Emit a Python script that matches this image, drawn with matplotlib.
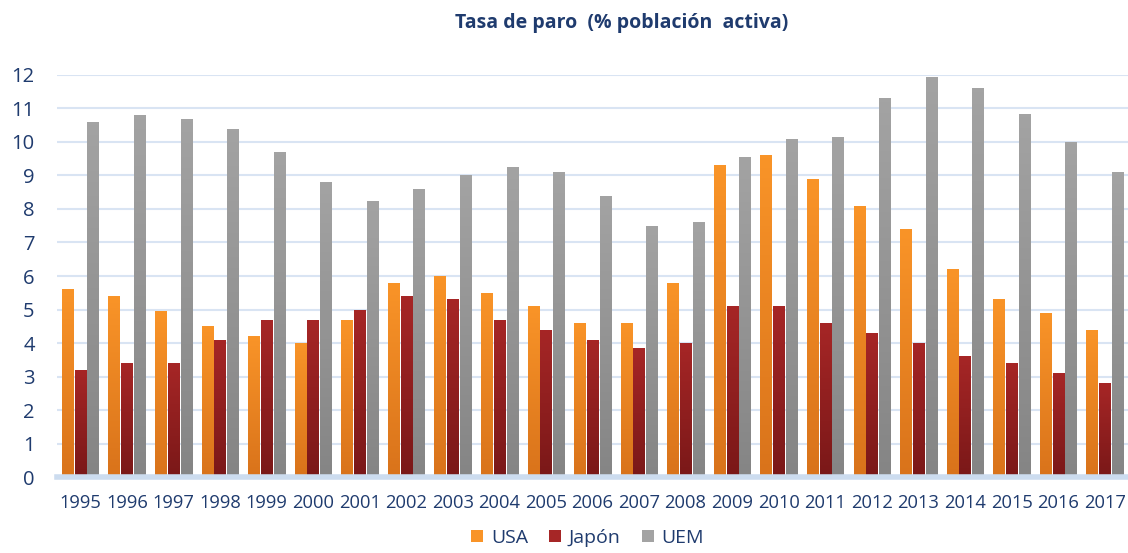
import numpy as np
import matplotlib
matplotlib.use("Agg")
import matplotlib.pyplot as plt
from matplotlib.colors import LinearSegmentedColormap
from matplotlib.patches import Patch

# datos: tasa de paro (% población activa)
years = [str(y) for y in range(1995, 2018)]
usa = [5.6, 5.4, 4.95, 4.5, 4.2, 4.0, 4.7, 5.8, 6.0, 5.5, 5.1, 4.6,
       4.6, 5.8, 9.3, 9.6, 8.9, 8.1, 7.4, 6.2, 5.3, 4.9, 4.4]
japon = [3.2, 3.4, 3.4, 4.1, 4.7, 4.7, 5.0, 5.4, 5.3, 4.7, 4.4, 4.1,
         3.85, 4.0, 5.1, 5.1, 4.6, 4.3, 4.0, 3.6, 3.4, 3.1, 2.8]
uem = [10.6, 10.8, 10.7, 10.4, 9.7, 8.8, 8.25, 8.6, 9.0, 9.25, 9.1, 8.4,
       7.5, 7.6, 9.55, 10.1, 10.15, 11.3, 11.95, 11.6, 10.85, 10.0, 9.1]
series = ["USA", "Japón", "UEM"]

txt = "#1F3B6E"
grid_c = "#D9E4F3"
# colores degradados (arriba, abajo)
grads = [("#F99428", "#D9731B"),
         ("#A62626", "#7A1818"),
         ("#A3A3A3", "#858585")]

plt.rcParams['font.family'] = ['Open Sans', 'DejaVu Sans']

fig = plt.figure(figsize=(11.28, 5.53), dpi=100)
ax = fig.add_axes([0.0505, 0.1374, 0.9495, 0.727])

x = np.arange(len(years))
w = 0.24
off = 0.274
for k, vals in enumerate([usa, japon, uem]):
    top, bot = grads[k]
    cmap = LinearSegmentedColormap.from_list("g%d" % k, [bot, top])
    bars = ax.bar(x + (k - 1) * off, vals, w, color=top, zorder=3)
    for b in bars:
        bx, by = b.get_x(), b.get_y()
        bw, bh = b.get_width(), b.get_height()
        grad = np.linspace(0, 1, 100).reshape(-1, 1)
        im = ax.imshow(grad, cmap=cmap, origin="lower", aspect="auto",
                       extent=[bx, bx + bw, by, by + bh], zorder=3.5)
        im.set_clip_path(b)

ax.set_xlim(-0.5, len(years) - 0.5)
ax.set_ylim(0, 12)
ax.set_yticks(range(0, 13))
ax.set_xticks(x)
ax.set_xticklabels(years)
ax.yaxis.grid(True, color=grid_c, linewidth=1.5, zorder=0)
ax.set_axisbelow(True)
for s in ["top", "right", "left"]:
    ax.spines[s].set_visible(False)
ax.spines["bottom"].set_color("#CCDCEF")
ax.spines["bottom"].set_linewidth(4)
ax.spines["bottom"].set_zorder(4)
ax.tick_params(axis="y", length=0, labelsize=14.5, labelcolor=txt, pad=16)
ax.tick_params(axis="x", length=0, labelsize=13.2, labelcolor=txt, pad=12)

fig.text(0.551, 0.958, "Tasa de paro  (% población  activa)", ha="center",
         va="center", fontsize=14, fontweight="bold", color=txt)

handles = [Patch(facecolor=grads[k][0], edgecolor="none") for k in range(3)]
fig.legend(handles, series, loc="center", bbox_to_anchor=(0.521, 0.027),
           ncol=3, frameon=False, fontsize=14, labelcolor=txt,
           handlelength=0.6, handleheight=0.6, handletextpad=0.4,
           columnspacing=1.1)

fig.savefig("out.png", dpi=100)
